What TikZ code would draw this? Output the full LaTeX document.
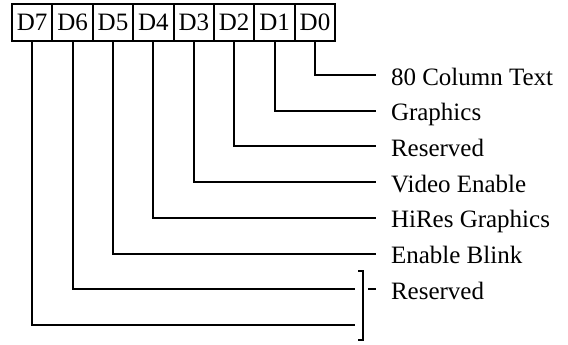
\documentclass[tikz,border=0pt]{standalone}
\usepackage{fontspec}
\setmainfont{Liberation Serif}

\begin{document}
\begin{tikzpicture}[
        x = 0.5pt, y = -0.5pt, line width = 1pt,
        bitbox/.style = {draw, minimum width = 20.2pt, minimum height = 18.25pt, inner sep = 0pt,
                         font = \fontsize{12.5}{15}\selectfont},
        flag/.style = {anchor = west, inner xsep = 7pt, inner ysep = 0pt, text height = 10pt,
                       text depth = 0pt, font = \fontsize{12.5}{15}\selectfont}
    ]
    \useasboundingbox (0,0) rectangle (568,344);
    % register bits
    \foreach \i in {0,...,7}
        \node[bitbox] (b\i) at ({32.2+40.4*(7-\i)},22.25) {D\i};

    % meaning of each bit
    \node[flag] (t0) at (376,75) {80 Column Text};
    \node[flag] (t1) at (376,110.7) {Graphics};
    \node[flag] (t2) at (376,146.4) {Reserved};
    \node[flag] (t3) at (376,182.1) {Video Enable};
    \node[flag] (t4) at (376,217.8) {HiRes Graphics};
    \node[flag] (t5) at (376,253.5) {Enable Blink};
    \node[flag] (t6) at (376,289.2) {Reserved};

    \foreach \i in {0,...,5}
        \draw (b\i.south) |- (t\i.west);

    \coordinate (c6) at (355,289.2);
    \coordinate (c7) at (355,324.9);
    \draw (b6.south) |- (c6);
    \draw (b7.south) |- (c7);

    % bracket for D6, D7
    \coordinate (brtop) at (363,271);
    \coordinate (brbot) at (363,340);
    \draw (brtop) ++(-5,0) -- (brtop) -- (brbot) -- ++(-5,0);
    \draw ([xshift=2.5pt]brtop |- t6.west) -- (t6.west);
\end{tikzpicture}
\end{document}
